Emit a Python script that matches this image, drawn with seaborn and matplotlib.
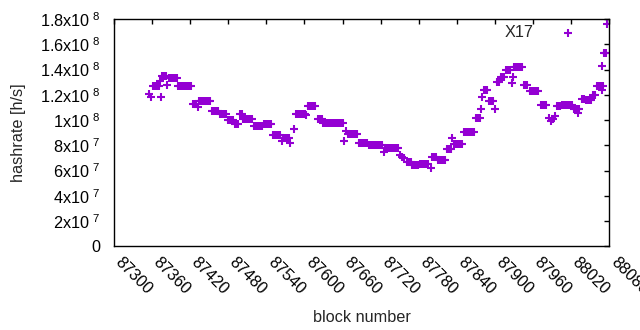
# hashrate per block, gnuplot-like scatter of '+' points
import numpy as np
import seaborn as sns
import matplotlib.pyplot as plt
import matplotlib.transforms as mtransforms

# block numbers and estimated hashrate (in MH/s)
blocks = [
    87356, 87359,
    87362, 87365, 87368, 87371, 87373, 87374,
    87376, 87379, 87382, 87384,
    87387, 87390, 87393, 87396, 87399,
    87401, 87404, 87407, 87410, 87413, 87416, 87419, 87422,
    87424, 87427, 87430, 87432,
    87434, 87437, 87440, 87443, 87446, 87449, 87452,
    87455, 87458, 87461, 87464,
    87467, 87470, 87473, 87476,
    87479, 87482, 87485, 87488,
    87490, 87493, 87496, 87498, 87501,
    87503, 87506, 87509, 87512, 87515, 87518,
    87521, 87524, 87527, 87530, 87533,
    87536, 87539, 87542, 87545, 87547,
    87550, 87553, 87556, 87559, 87562,
    87565, 87566, 87569, 87572, 87575, 87578, 87583,
    87586, 87589, 87592, 87595, 87598, 87601, 87603,
    87605, 87608, 87611, 87614, 87617,
    87621, 87624, 87627,
    87630, 87633, 87636, 87639, 87642, 87645, 87648, 87651, 87654, 87657, 87660,
    87663, 87665,
    87668, 87671, 87674, 87677, 87680, 87683,
    87686, 87689, 87692, 87695, 87698,
    87701, 87704, 87707, 87710, 87713, 87716, 87719, 87722, 87725,
    87727, 87730, 87733, 87736, 87739, 87742, 87745, 87748,
    87751, 87754, 87757,
    87761, 87764, 87767, 87770, 87773, 87776, 87779,
    87782, 87785, 87788, 87791, 87794, 87799,
    87801, 87804, 87807,
    87810, 87813, 87816, 87819, 87822,
    87824, 87827, 87830, 87832,
    87836, 87839, 87842, 87845, 87848,
    87852, 87855, 87858, 87861, 87864, 87867,
    87870, 87873, 87876, 87878, 87879,
    87882, 87885, 87888,
    87891, 87894, 87897, 87900,
    87903, 87906,
    87909, 87912, 87915,
    87918, 87921, 87924, 87927, 87928,
    87930, 87933, 87936, 87939, 87942,
    87945, 87948, 87951,
    87955, 87958, 87961, 87964, 87967,
    87972, 87975, 87978, 87981,
    87985, 87988, 87991, 87994,
    87997, 88000, 88003,
    88006, 88009, 88012, 88015, 88018, 88021,
    88024, 88027, 88030, 88033, 88031,
    88037, 88040,
    88043, 88046, 88049, 88052,
    88055, 88058,
    88061, 88064, 88067, 88070, 88069, 88069,
    88071, 88073, 88075, 88076,
]
hashrate_mh = [
    121, 118,
    127, 127, 127, 127, 131, 118,
    135, 135, 135, 128,
    133, 133, 133, 133, 133,
    127, 127, 127, 127, 127, 127, 127, 127,
    113, 113, 113, 110,
    115, 115, 115, 115, 115, 115, 115,
    107, 107, 107, 107,
    105, 105, 105, 105,
    100, 100, 100, 100,
    97, 97, 97, 105, 105,
    101, 101, 101, 101, 101, 101,
    95, 95, 95, 95, 95,
    97, 97, 97, 97, 97,
    88, 88, 88, 88, 88,
    83, 85.5, 85.5, 85.5, 85.5, 82, 93,
    105, 105, 105, 105, 105, 105, 104,
    111, 111, 111, 111, 111,
    100.5, 100.5, 100.5,
    97.5, 97.5, 97.5, 97.5, 97.5, 97.5, 97.5, 97.5, 97.5, 97.5, 97.5,
    83, 91,
    89, 89, 89, 89, 89, 89,
    81.5, 81.5, 81.5, 81.5, 81.5,
    80, 80, 80, 80, 80, 80, 80, 80, 75,
    78, 78, 78, 78, 78, 78, 78, 78,
    72, 71, 70,
    66.5, 66.5, 66.5, 64.5, 64, 64, 64,
    65.5, 65.5, 65.5, 65.5, 65.5, 62,
    71, 71, 71,
    68, 68, 68, 68, 68,
    77, 77, 77, 86,
    81, 81, 81, 81, 81,
    90.5, 90.5, 90.5, 90.5, 90.5, 90.5,
    102, 102, 102, 109, 118,
    124, 124, 124,
    115, 115, 115, 109,
    130, 130,
    134, 134, 134,
    140, 140, 140, 129, 134,
    142, 142, 142, 142, 142,
    128, 128, 128,
    123, 123, 123, 123, 123,
    112, 112, 112, 112,
    101.5, 99, 101, 103,
    111, 111, 111,
    112, 112, 112, 112, 112, 112,
    109, 109, 109, 109, 105.5,
    117, 117,
    115.5, 115.5, 115.5, 115.5,
    120, 120,
    127, 127, 127, 127, 124, 143,
    153, 153, 153, 176,
]

x_ticks = list(range(87300, 88081, 60))
y_ticks = [0, 2e7, 4e7, 6e7, 8e7, 1e8, 1.2e8, 1.4e8, 1.6e8, 1.8e8]
y_tick_labels = ['0', r'2x10$^{\ 7}$', r'4x10$^{\ 7}$', r'6x10$^{\ 7}$', r'8x10$^{\ 7}$',
                 r'1x10$^{\ 8}$', r'1.2x10$^{\ 8}$', r'1.4x10$^{\ 8}$', r'1.6x10$^{\ 8}$',
                 r'1.8x10$^{\ 8}$']

sns.set_style('white')
plt.rcParams['font.family'] = ['Liberation Sans', 'DejaVu Sans']
plt.rcParams['mathtext.fontset'] = 'custom'
plt.rcParams['mathtext.rm'] = 'Liberation Sans'
plt.rcParams['mathtext.default'] = 'regular'
fs = 11.7

fig = plt.figure(figsize=(6.4, 3.3), dpi=100)
ax = fig.add_axes([0.178, 0.254, 0.774, 0.688])

sns.scatterplot(x=blocks, y=np.array(hashrate_mh) * 1e6, marker='+', s=36,
                color='#9400D3', linewidth=1.5, ax=ax, label='X17')

ax.set_xlim(87300, 88080)
ax.set_ylim(0, 1.8e8)
ax.set_xticks(x_ticks)
ax.set_yticks(y_ticks)
ax.set_yticklabels(y_tick_labels)
ax.tick_params(axis='both', direction='in', length=3.5, width=1, colors='black',
               labelsize=fs, top=True, right=True)
ax.tick_params(axis='y', pad=10)
ax.tick_params(axis='x', pad=6)
ax.set_xticklabels([str(t) for t in x_ticks], rotation=-45, ha='left', va='top',
                   rotation_mode='anchor')
# gnuplot puts the rotated label's start right at the tick
shift = mtransforms.ScaledTranslation(9 / 100, 0, fig.dpi_scale_trans)
for lab in ax.get_xticklabels():
    lab.set_transform(lab.get_transform() + shift)
for sp in ax.spines.values():
    sp.set_visible(True)
    sp.set_color('black')
    sp.set_linewidth(1)

ax.set_xlabel('block number', fontsize=fs, labelpad=9)
ax.set_ylabel('hashrate [h/s]', fontsize=fs, labelpad=10)

ax.legend(loc='upper right', markerfirst=False, frameon=False, fontsize=fs,
          handlelength=2, handletextpad=1.1, borderpad=0, borderaxespad=0,
          bbox_to_anchor=(584 / 640, (330 - 25) / 330), bbox_transform=fig.transFigure)

fig.savefig('out.png', dpi=100)
